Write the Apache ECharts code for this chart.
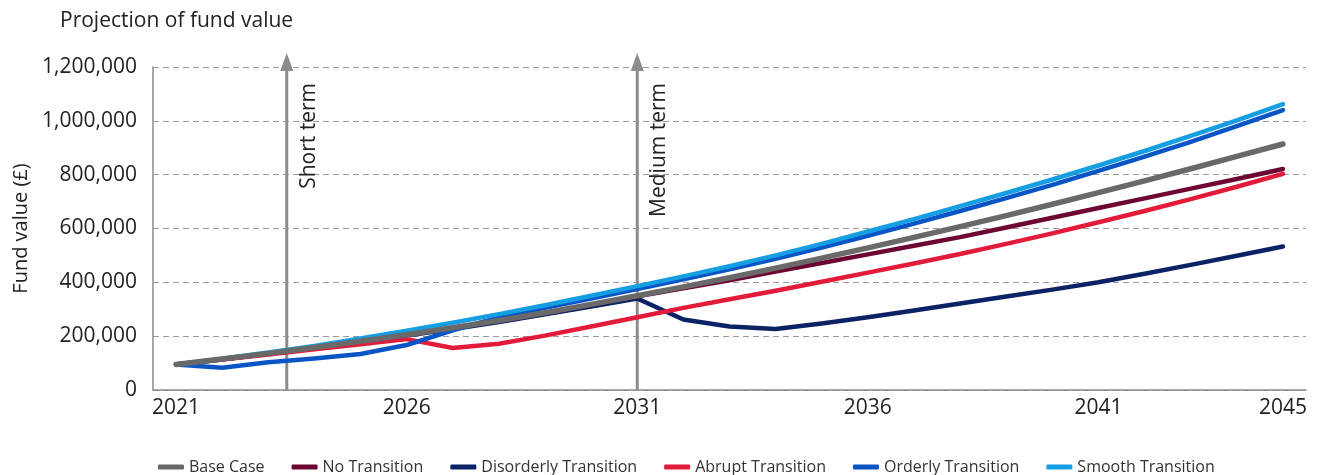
<!DOCTYPE html>
<html>
<head>
<meta charset="utf-8">
<script src="https://cdn.jsdelivr.net/npm/echarts@6/dist/echarts.min.js"></script>
<style>
  html, body { margin: 0; padding: 0; background: #fff; }
  #chart { width: 1320px; height: 475px; }
</style>
</head>
<body>
<div id="chart"></div>
<script>
// Projection years
const years = [2021, 2022, 2023, 2024, 2025, 2026, 2027, 2028, 2029, 2030, 2031, 2032, 2033,
               2034, 2035, 2036, 2037, 2038, 2039, 2040, 2041, 2042, 2043, 2044, 2045];

// Fund value (£) by scenario
const baseCase = [95000, 115000, 136000, 158000, 181000, 205000, 231000, 258000, 287000, 318000,
                  350000, 383000, 417000, 453000, 490000, 528000, 567000, 607000, 648000, 690000,
                  733000, 777000, 822000, 868000, 914000];
const noTransition = [95000, 114000, 135000, 157000, 180000, 204000, 230000, 257000, 286000, 317000,
                      348000, 378000, 408000, 440000, 472000, 504000, 536000, 568000, 604000, 640000,
                      676000, 712000, 748000, 784000, 821000];
const disorderlyTransition = [95000, 114000, 134000, 156000, 178000, 202000, 227000, 253000, 281000, 310000,
                              340000, 262000, 236000, 227000, 247000, 270000, 295000, 321000, 347000, 373000,
                              400000, 432000, 465000, 499000, 533000];
const abruptTransition = [95000, 113000, 132000, 151000, 170000, 189000, 156000, 172000, 202000, 236000,
                          270000, 305000, 337000, 369000, 402000, 436000, 470000, 505000, 543000, 582000,
                          623000, 665000, 709000, 755000, 803000];
const orderlyTransition = [95000, 83000, 103000, 117000, 134000, 167000, 222000, 270000, 305000, 340000,
                           375000, 411000, 448000, 487000, 529000, 573000, 618000, 665000, 713000, 762000,
                           814000, 867000, 922000, 980000, 1040000];
const smoothTransition = [95000, 116000, 139000, 164000, 191000, 220000, 250000, 282000, 315000, 350000,
                          386000, 422000, 460000, 500000, 543000, 589000, 635000, 683000, 732000, 782000,
                          834000, 888000, 944000, 1002000, 1062000];

// Labelled years on the horizontal axis
const xTickYears = [2021, 2026, 2031, 2036, 2041, 2045];

// Horizon markers (year position, label)
const horizons = [
  { year: 2023.4, label: 'Short term' },
  { year: 2031, label: 'Medium term' }
];

const FONT = '"Open Sans", "Noto Sans", sans-serif';

const scenarios = [
  { name: 'Base Case', data: baseCase, color: '#696969', width: 5.5, z: 10 },
  { name: 'No Transition', data: noTransition, color: '#6e0633', width: 4.5, z: 6 },
  { name: 'Disorderly Transition', data: disorderlyTransition, color: '#0b2265', width: 4.5, z: 5 },
  { name: 'Abrupt Transition', data: abruptTransition, color: '#e31b3b', width: 4.5, z: 7 },
  { name: 'Orderly Transition', data: orderlyTransition, color: '#0a55c6', width: 4.5, z: 8 },
  { name: 'Smooth Transition', data: smoothTransition, color: '#159ee2', width: 4.5, z: 9 }
];

const series = scenarios.map(s => ({
  name: s.name,
  type: 'line',
  data: years.map((y, i) => [y, s.data[i]]),
  showSymbol: false,
  symbol: 'none',
  z: s.z,
  lineStyle: { color: s.color, width: s.width, cap: 'round', join: 'round' },
  itemStyle: { color: s.color },
  emphasis: { disabled: true }
}));

const chart = echarts.init(document.getElementById('chart'), null, { renderer: 'canvas' });
chart.setOption({
  animation: false,
  backgroundColor: '#ffffff',
  title: {
    text: 'Projection of fund value',
    left: 55,
    top: 6,
    textStyle: { fontFamily: FONT, fontSize: 21, fontWeight: 'normal', color: '#222' }
  },
  legend: {
    data: scenarios.map(s => s.name),
    top: 454,
    left: 153,
    icon: 'roundRect',
    itemWidth: 26,
    itemHeight: 5,
    itemGap: 27,
    textStyle: { fontFamily: FONT, fontSize: 16, color: '#333' }
  },
  grid: { left: 153, right: 14, top: 67, bottom: 85, containLabel: false },
  xAxis: {
    type: 'value',
    min: 2020.5,
    max: 2045.5,
    axisLine: { show: true, lineStyle: { color: '#8c8c8c', width: 1.5 } },
    axisTick: { show: false },
    splitLine: { show: false },
    axisLabel: {
      customValues: xTickYears,
      formatter: v => String(v),
      color: '#222',
      fontFamily: FONT,
      fontSize: 21,
      margin: 8
    }
  },
  yAxis: {
    type: 'value',
    min: 0,
    max: 1200000,
    interval: 200000,
    name: 'Fund value (£)',
    nameLocation: 'middle',
    nameGap: 122,
    nameRotate: 90,
    nameTextStyle: { fontFamily: FONT, fontSize: 20, color: '#222' },
    axisLine: { show: true, lineStyle: { color: '#8c8c8c', width: 1.5 } },
    axisTick: { show: false },
    splitLine: { show: true, lineStyle: { color: '#9a9a9a', width: 1, type: [6, 4] } },
    axisLabel: {
      formatter: v => v.toLocaleString('en-GB'),
      color: '#222',
      fontFamily: FONT,
      fontSize: 21,
      margin: 16
    }
  },
  series: series
});

// Horizon arrows with rotated captions, placed through the axes' own scales
const yTop = 1200000;
const graphics = [];
horizons.forEach(h => {
  const bottom = chart.convertToPixel({ xAxisIndex: 0, yAxisIndex: 0 }, [h.year, 0]);
  const top = chart.convertToPixel({ xAxisIndex: 0, yAxisIndex: 0 }, [h.year, yTop]);
  const x = bottom[0];
  const tipY = top[1] - 14;
  const headBase = tipY + 18;
  graphics.push({
    type: 'line',
    z: 3,
    silent: true,
    shape: { x1: x, y1: bottom[1], x2: x, y2: headBase - 1 },
    style: { stroke: '#8c8c8c', lineWidth: 3 }
  });
  graphics.push({
    type: 'polygon',
    z: 3,
    silent: true,
    shape: { points: [[x, tipY], [x - 6.5, headBase], [x + 6.5, headBase]] },
    style: { fill: '#8c8c8c' }
  });
  graphics.push({
    type: 'text',
    z: 3,
    silent: true,
    x: x + 22,
    y: top[1] + 16,
    rotation: Math.PI / 2,
    style: {
      text: h.label,
      fontFamily: FONT,
      fontSize: 21,
      fill: '#222',
      align: 'right',
      verticalAlign: 'middle'
    }
  });
});
chart.setOption({ graphic: graphics });
</script>
</body>
</html>
